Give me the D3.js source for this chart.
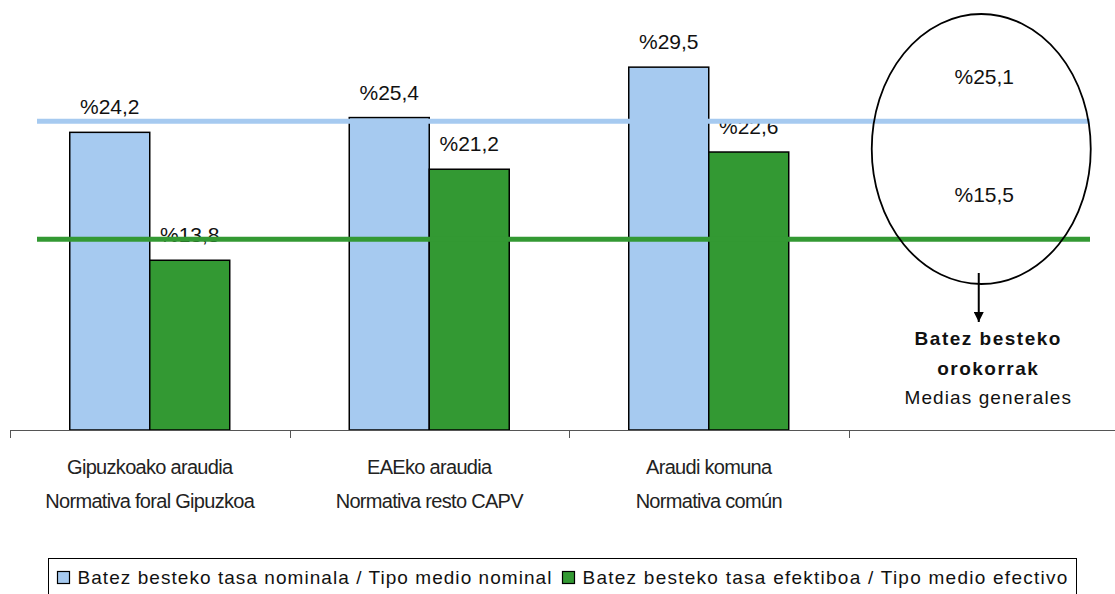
<!DOCTYPE html>
<html>
<head>
<meta charset="utf-8">
<script src="https://cdn.jsdelivr.net/npm/d3@7"></script>
<style>
  html, body { margin: 0; padding: 0; background: #fff; }
  svg { display: block; font-family: "Liberation Sans", Arial, sans-serif; }
</style>
</head>
<body>
<svg id="chart" width="1115" height="594"></svg>
<script>
// ---- Data ----
const categoriesEu = ["Gipuzkoako araudia", "EAEko araudia", "Araudi komuna"];
const categoriesEs = ["Normativa foral Gipuzkoa", "Normativa resto CAPV", "Normativa común"];
const seriesKeys = ["nominal", "efectivo"];
const seriesNames = [
  "Batez besteko tasa nominala / Tipo medio nominal",
  "Batez besteko tasa efektiboa / Tipo medio efectivo"
];
const nominal = [24.2, 25.4, 29.5];
const efectivo = [13.8, 21.2, 22.6];
const means = [25.1, 15.5];           // general averages: nominal, efectivo
const noteBold = ["Batez besteko", "orokorrak"];
const noteText = "Medias generales";

// ---- Styles ----
const colors = { nominal: "#A6CAF0", efectivo: "#339933" };

const svg = d3.select("#chart");

// ---- Scales ----
const step = 279.5;
const x = d3.scaleBand().domain([0, 1, 2, 3]).range([10, 10 + 4 * step]);
const xs = d3.scaleBand().domain(seriesKeys).range([0, x.bandwidth()]).paddingOuter(0.747);
const y = d3.scaleLinear().domain([0, 35]).range([430, 430 - 35 * 12.3]);

const rows = categoriesEu.map((c, i) => ({ i, nominal: nominal[i], efectivo: efectivo[i] }));

// ---- Bars ----
const g = svg.append("g");
const groups = g.selectAll("g.cat").data(rows).join("g")
  .attr("class", "cat")
  .attr("transform", d => `translate(${x(d.i)},0)`);

groups.selectAll("rect").data(d => seriesKeys.map(k => ({ k, v: d[k] }))).join("rect")
  .attr("x", d => xs(d.k))
  .attr("y", d => y(d.v))
  .attr("width", xs.bandwidth())
  .attr("height", d => y(0) - y(d.v))
  .attr("fill", d => colors[d.k])
  .attr("stroke", "#000")
  .attr("stroke-width", 1.5);

// ---- Value labels ----
const fmt = v => "%" + d3.format(".1f")(v).replace(".", ",");
groups.selectAll("text.val").data(d => seriesKeys.map(k => ({ k, v: d[k] }))).join("text")
  .attr("class", "val")
  .attr("x", d => xs(d.k) + xs.bandwidth() / 2)
  .attr("y", d => y(d.v) - 18)
  .attr("text-anchor", "middle")
  .attr("font-size", 21)
  .attr("fill", "#111")
  .text(d => fmt(d.v));

// ---- Mean lines ----
svg.selectAll("line.mean").data(means).join("line")
  .attr("class", "mean")
  .attr("x1", 37).attr("x2", 1090)
  .attr("y1", d => y(d)).attr("y2", d => y(d))
  .attr("stroke", (d, i) => colors[seriesKeys[i]])
  .attr("stroke-width", 5);

// ---- Axis ----
const axisY = y(0);
svg.append("line")
  .attr("x1", x(0)).attr("x2", 1115)
  .attr("y1", axisY + 0.5).attr("y2", axisY + 0.5)
  .attr("stroke", "#555").attr("stroke-width", 1);
svg.selectAll("line.tick").data(x.domain()).join("line")
  .attr("class", "tick")
  .attr("x1", d => Math.round(x(d)) + 0.5).attr("x2", d => Math.round(x(d)) + 0.5)
  .attr("y1", axisY).attr("y2", axisY + 8)
  .attr("stroke", "#555").attr("stroke-width", 1);

// ---- Category labels ----
const catG = svg.selectAll("g.catlab").data(rows).join("g").attr("class", "catlab");
catG.append("text")
  .attr("x", d => x(d.i) + x.bandwidth() / 2).attr("y", 474)
  .attr("text-anchor", "middle").attr("font-size", 20).attr("letter-spacing", -0.7)
  .attr("fill", "#222")
  .text(d => categoriesEu[d.i]);
catG.append("text")
  .attr("x", d => x(d.i) + x.bandwidth() / 2).attr("y", 508)
  .attr("text-anchor", "middle").attr("font-size", 20).attr("letter-spacing", -0.7)
  .attr("fill", "#222")
  .text(d => categoriesEs[d.i]);

// ---- Ellipse annotation ----
const cx4 = x(3) + x.bandwidth() / 2;
svg.append("ellipse")
  .attr("cx", cx4 - 7).attr("cy", 149)
  .attr("rx", 109.5).attr("ry", 135)
  .attr("fill", "none").attr("stroke", "#000").attr("stroke-width", 1.8);

svg.selectAll("text.meanlab").data(means).join("text")
  .attr("class", "meanlab")
  .attr("x", cx4 - 4)
  .attr("y", d => y(d) - 37)
  .attr("text-anchor", "middle").attr("font-size", 21).attr("fill", "#111")
  .text(d => fmt(d));

// arrow
svg.append("defs").append("marker")
  .attr("id", "arrow").attr("viewBox", "0 0 10 10")
  .attr("refX", 10).attr("refY", 5)
  .attr("markerWidth", 10).attr("markerHeight", 10)
  .attr("markerUnits", "userSpaceOnUse")
  .attr("orient", "auto")
  .append("path").attr("d", "M0,0 L10,5 L0,10 Z").attr("fill", "#000");
svg.append("line")
  .attr("x1", cx4 - 9.5).attr("x2", cx4 - 9.5)
  .attr("y1", 273).attr("y2", 322)
  .attr("stroke", "#000").attr("stroke-width", 2)
  .attr("marker-end", "url(#arrow)");

svg.selectAll("text.note").data(noteBold).join("text")
  .attr("class", "note")
  .attr("x", cx4).attr("y", (d, i) => 345 + i * 30)
  .attr("text-anchor", "middle").attr("font-size", 19).attr("font-weight", "bold")
  .attr("letter-spacing", 1.5).attr("fill", "#111")
  .text(d => d);
svg.append("text")
  .attr("x", cx4).attr("y", 404)
  .attr("text-anchor", "middle").attr("font-size", 19)
  .attr("letter-spacing", 1.1).attr("fill", "#111")
  .text(noteText);

// ---- Legend ----
const lg = svg.append("g");
lg.append("rect")
  .attr("x", 48.5).attr("y", 558.5).attr("width", 1028).attr("height", 45)
  .attr("fill", "#fff").attr("stroke", "#000").attr("stroke-width", 1);
const legendX = [57.5, 562.5];
const items = lg.selectAll("g.item").data(seriesKeys).join("g")
  .attr("class", "item")
  .attr("transform", (d, i) => `translate(${legendX[i]},0)`);
items.append("rect")
  .attr("x", 0).attr("y", 571.5).attr("width", 12).attr("height", 12)
  .attr("fill", d => colors[d]).attr("stroke", "#000").attr("stroke-width", 1.2);
items.append("text")
  .attr("x", 20).attr("y", 584)
  .attr("font-size", 19).attr("letter-spacing", (d, i) => i === 0 ? 1.05 : 1.25).attr("fill", "#111")
  .text((d, i) => seriesNames[i]);
</script>
</body>
</html>
